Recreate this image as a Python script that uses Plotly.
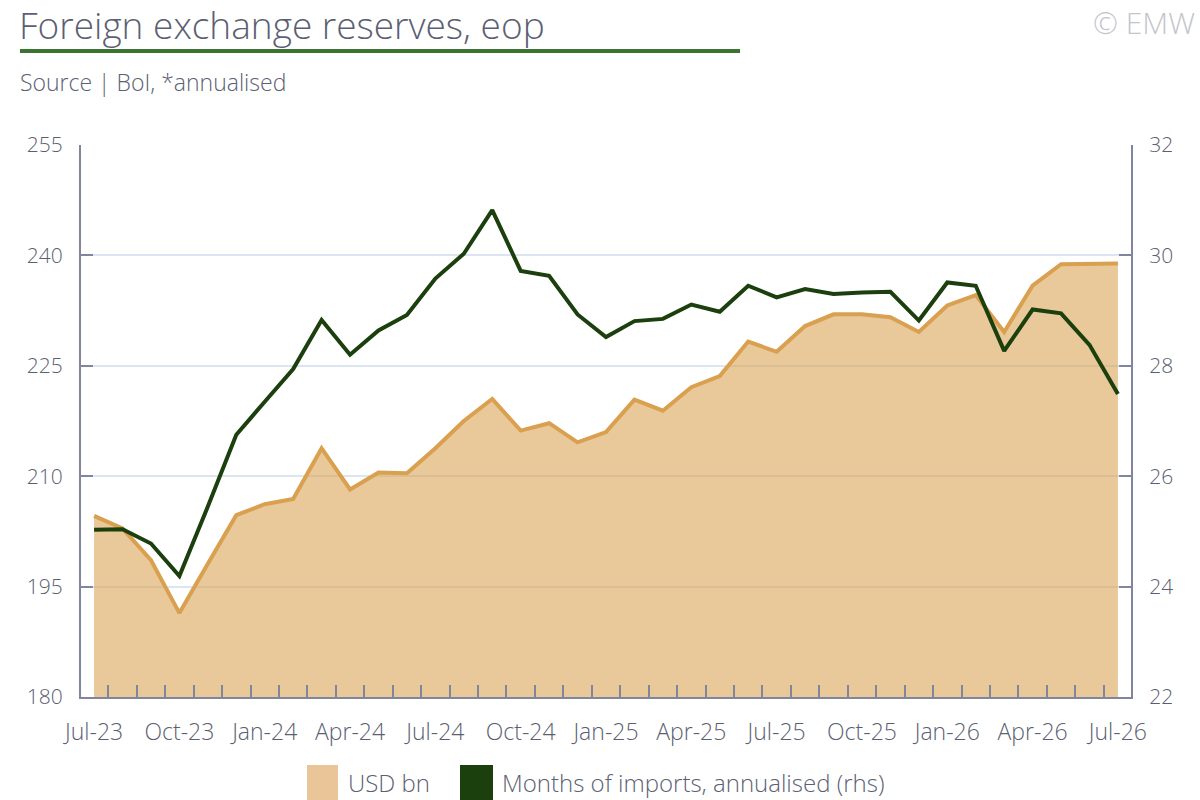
import plotly.graph_objects as go

months = ["Jul-23", "Aug-23", "Sep-23", "Oct-23", "Nov-23", "Dec-23",
          "Jan-24", "Feb-24", "Mar-24", "Apr-24", "May-24", "Jun-24",
          "Jul-24", "Aug-24", "Sep-24", "Oct-24", "Nov-24", "Dec-24",
          "Jan-25", "Feb-25", "Mar-25", "Apr-25", "May-25", "Jun-25",
          "Jul-25", "Aug-25", "Sep-25", "Oct-25", "Nov-25", "Dec-25",
          "Jan-26", "Feb-26", "Mar-26", "Apr-26", "May-26", "Jun-26",
          "Jul-26"]

# USD bn (lhs)
reserves = [204.6, 202.9, 198.6, 191.4, 198.1, 204.7, 206.2, 206.9, 213.8,
            208.2, 210.5, 210.4, 213.8, 217.5, 220.5, 216.2, 217.2, 214.6,
            216.0, 220.4, 218.9, 222.1, 223.6, 228.3, 226.9, 230.4, 232.0,
            232.0, 231.6, 229.6, 233.2, 234.6, 229.6, 235.9, 238.8, 238.8,
            238.9]

# months of imports, annualised (rhs)
import_cover = [25.03, 25.04, 24.78, 24.19, 25.45, 26.75, 27.35, 27.94, 28.83,
                28.20, 28.64, 28.92, 29.58, 30.03, 30.82, 29.72, 29.63, 28.93,
                28.52, 28.81, 28.85, 29.11, 28.98, 29.45, 29.24, 29.39, 29.30,
                29.33, 29.34, 28.82, 29.51, 29.45, 28.27, 29.02, 28.95, 28.38,
                27.49]

names = ["USD bn", "Months of imports, annualised (rhs)"]

TXT = "#5c5f73"
AXIS = "#7f869e"
GRID = "#dce6f2"
TAN_LINE = "#d9a050"
TAN_FILL = "rgba(217,160,80,0.58)"
GREEN = "#1c3f0e"
FONT = "Open Sans"
W = 300  # light weight

x = list(range(len(months)))

fig = go.Figure()
fig.add_trace(go.Scatter(x=x, y=reserves, name=names[0], mode="lines",
                         line=dict(color=TAN_LINE, width=4),
                         fill="tozeroy", fillcolor=TAN_FILL,
                         showlegend=False))
fig.add_trace(go.Scatter(x=x, y=import_cover, name=names[1], mode="lines",
                         line=dict(color=GREEN, width=4), yaxis="y2",
                         showlegend=False))

fig.update_layout(
    width=1200, height=800,
    margin=dict(l=81, r=69, t=145, b=103),
    paper_bgcolor="white", plot_bgcolor="white",
    font=dict(family=FONT, color=TXT, size=20, weight=W),
    xaxis=dict(range=[-0.46, len(months) - 0.54],
               tickvals=x[::3], ticktext=months[::3],
               ticks="", showgrid=False, zeroline=False,
               showline=True, linecolor=AXIS, linewidth=2,
               tickfont=dict(size=23, color=TXT, weight=W), ticklabelstandoff=13,
               minor=dict(ticks="inside", tick0=0.5, dtick=1, ticklen=12,
                          tickcolor=AXIS, tickwidth=2, showgrid=False)),
    yaxis=dict(range=[180, 255], dtick=15, showgrid=True, gridcolor=GRID,
               gridwidth=2, zeroline=False, showline=True, linecolor=AXIS,
               linewidth=2, ticks="inside", ticklen=12, tickcolor=AXIS,
               tickwidth=2, tickfont=dict(size=21, color=TXT, weight=W),
               ticklabelstandoff=12),
    yaxis2=dict(range=[22, 32], dtick=2, overlaying="y", side="right",
                showgrid=False, zeroline=False, showline=True, linecolor=AXIS,
                linewidth=2, ticks="inside", ticklen=12, tickcolor=AXIS,
                tickwidth=2, tickfont=dict(size=21, color=TXT, weight=W),
                ticklabelstandoff=12),
)

def px_x(p):
    return (p - 81) / 1050

def px_y(p):
    return (697 - p) / 552

# title, underline, source, copyright
fig.add_annotation(text="Foreign exchange reserves, eop", xref="paper", yref="paper",
                   x=px_x(17), y=px_y(24), xanchor="left", yanchor="middle",
                   showarrow=False, font=dict(size=37, color=TXT, weight=W))
fig.add_shape(type="line", xref="paper", yref="paper",
              x0=px_x(20), x1=px_x(740), y0=px_y(51), y1=px_y(51),
              line=dict(color="#3b7430", width=4))
fig.add_annotation(text="Source | BoI, *annualised", xref="paper", yref="paper",
                   x=px_x(18), y=px_y(82), xanchor="left", yanchor="middle",
                   showarrow=False, font=dict(size=23, color=TXT, weight=W))
fig.add_annotation(text="© EMW", xref="paper", yref="paper",
                   x=px_x(1197), y=px_y(22), xanchor="right", yanchor="middle",
                   showarrow=False, font=dict(size=30, color="#c3c5cc", weight=W))

# legend
for i, (sx0, sx1, tx, col) in enumerate([(307, 338, 346, "#eac597"),
                                         (460, 493, 500, GREEN)]):
    fig.add_shape(type="rect", xref="paper", yref="paper",
                  x0=px_x(sx0), x1=px_x(sx1), y0=px_y(765), y1=px_y(800),
                  fillcolor=col, line=dict(width=0))
    fig.add_annotation(text=names[i], xref="paper", yref="paper",
                       x=px_x(tx), y=px_y(782), xanchor="left", yanchor="middle",
                       showarrow=False, font=dict(size=24, color=TXT, weight=W))

fig.write_html("out.html", config={"displayModeBar": False},
               post_script="document.body.style.margin='0';")
